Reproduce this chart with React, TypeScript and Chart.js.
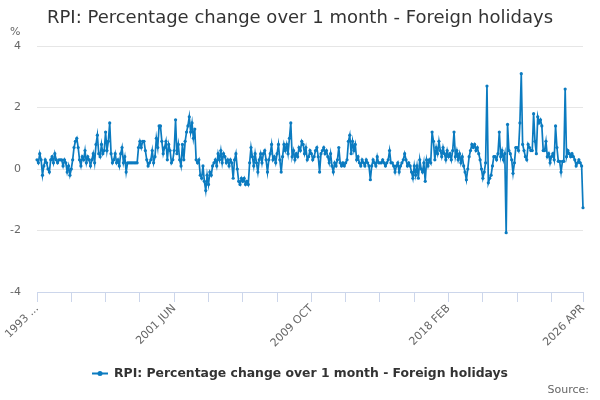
import { useEffect, useRef } from "react"
import { Chart, registerables } from "chart.js"

Chart.register(...registerables)

const chartTitle = "RPI: Percentage change over 1 month - Foreign holidays"
const seriesLabel = "RPI: Percentage change over 1 month - Foreign holidays"
const sourceText = "Source:"
const unitText = "%"

const startYear = 1993
const startMonth = 1 // FEB
const monthNames = ["JAN", "FEB", "MAR", "APR", "MAY", "JUN", "JUL", "AUG", "SEP", "OCT", "NOV", "DEC"]

// monthly % change, 1993 FEB .. 2026 APR
const values: number[] = [
  0.3, 0.2, 0.5, 0.3, -0.2, 0.1, 0.3, 0.2, 0.0, -0.1, 0.3, 0.4, 0.2, 0.5, 0.3, 0.2, 0.3, 0.3, 0.3, 0.1, 0.3, 0.2, -0.1, 0.1, -0.2,
  0.0, 0.3, 0.7, 0.9, 1.0, 0.7, 0.3, 0.1, 0.4, 0.3, 0.6, 0.2, 0.4, 0.3, 0.1, 0.3, 0.5, 0.2, 0.8, 1.1, 0.5, 0.4, 0.8, 0.5, 0.6,
  1.2, 0.6, 0.9, 1.5, 0.5, 0.2, 0.3, 0.5, 0.2, 0.3, 0.1, 0.5, 0.7, 0.2, 0.4, -0.1, 0.2, 0.2, 0.2, 0.2, 0.2, 0.2, 0.2, 0.2, 0.7,
  0.9, 0.7, 0.9, 0.9, 0.6, 0.3, 0.1, 0.2, 0.3, 0.6, 0.2, 0.4, 1.0, 0.7, 1.4, 1.4, 0.9, 0.5, 0.7, 0.9, 0.3, 0.8, 0.6, 0.2, 0.3,
  0.6, 1.6, 0.5, 0.8, 0.3, 0.1, 0.8, 0.3, 0.9, 1.2, 1.4, 1.7, 1.2, 1.5, 1.0, 1.3, 0.3, 0.2, 0.3, -0.2, -0.3, 0.1, -0.4, -0.7, -0.2,
  -0.5, -0.1, -0.2, 0.1, 0.2, 0.3, 0.1, 0.5, 0.3, 0.6, 0.2, 0.5, 0.4, 0.2, 0.3, 0.1, 0.3, 0.2, -0.3, 0.3, 0.5, 0.0, -0.4, -0.5, -0.3,
  -0.4, -0.3, -0.5, -0.4, -0.5, 0.2, 0.7, 0.4, 0.1, 0.5, 0.2, -0.1, 0.3, 0.5, 0.2, 0.5, 0.6, 0.3, -0.1, 0.3, 0.5, 0.8, 0.3, 0.4, 0.2,
  0.5, 0.8, 0.3, -0.1, 0.4, 0.8, 0.6, 0.8, 0.5, 1.0, 1.5, 0.4, 0.6, 0.3, 0.5, 0.4, 0.7, 0.6, 0.9, 0.8, 0.5, 0.7, 0.3, 0.4, 0.6,
  0.5, 0.3, 0.4, 0.6, 0.7, 0.4, -0.1, 0.5, 0.6, 0.7, 0.5, 0.6, 0.4, 0.2, 0.5, 0.1, -0.1, 0.2, 0.1, 0.3, 0.7, 0.2, 0.1, 0.2, 0.1,
  0.2, 0.3, 0.9, 1.1, 0.5, 0.9, 0.6, 0.8, 0.3, 0.4, 0.2, 0.1, 0.3, 0.2, 0.1, 0.3, 0.2, 0.1, -0.35, 0.1, 0.3, 0.2, 0.1, 0.4, 0.2,
  0.2, 0.2, 0.3, 0.2, 0.1, 0.2, 0.3, 0.6, 0.2, 0.2, 0.1, -0.1, 0.1, 0.2, -0.1, 0.1, 0.2, 0.3, 0.5, 0.3, 0.1, 0.2, 0.1, -0.1, -0.3,
  0.1, -0.2, 0.1, -0.3, 0.3, 0.0, -0.1, 0.2, -0.4, 0.3, 0.1, 0.3, 0.2, 1.2, 0.9, 0.3, 0.7, 0.5, 0.9, 0.6, 0.4, 0.7, 0.5, 0.3, 0.6,
  0.4, 0.5, 0.3, 0.6, 1.2, 0.4, 0.6, 0.3, 0.5, 0.2, 0.4, 0.1, -0.1, -0.35, 0.0, 0.4, 0.6, 0.8, 0.7, 0.8, 0.6, 0.7, 0.5, 0.3, 0.0,
  -0.3, -0.1, 0.2, 2.7, -0.45, -0.3, -0.2, 0.1, 0.4, 0.4, 0.3, 0.5, 1.2, 0.4, 0.6, 0.3, 0.5, -2.07, 1.45, 0.6, 0.5, 0.3, -0.14, 0.2, 0.7,
  0.7, 0.6, 1.5, 3.1, 0.8, 0.6, 0.4, 0.3, 0.8, 0.7, 0.6, 0.6, 1.8, 0.9, 0.5, 1.7, 1.5, 1.6, 1.4, 0.6, 0.6, 0.9, 0.4, 0.5, 0.2,
  0.4, 0.5, 0.3, 1.4, 0.7, 0.25, 0.25, -0.1, 0.25, 0.25, 2.6, 0.4, 0.6, 0.5, 0.4, 0.5, 0.4, 0.3, 0.1, 0.2, 0.3, 0.2, 0.1, -1.26,
]

const categories = values.map((_, i) => {
  const m = startMonth + i
  return `${startYear + Math.floor(m / 12)} ${monthNames[m % 12]}`
})

const xTickIndex = [0, 100, 200, 300, 398]
const xTickText = ["1993 ...", "2001 JUN", "2009 OCT", "2018 FEB", "2026 APR"]
const yMin = -4
const yMax = 4
const yStep = 2

const FONT = "'DejaVu Sans', sans-serif"
const LINE_COLOR = "#0b7bc0"

const textPlugin = {
  id: "extraTexts",
  afterDraw(chart: Chart) {
    const { ctx, width } = chart
    ctx.save()
    ctx.fillStyle = "#333333"
    ctx.font = `18px ${FONT}`
    ctx.textAlign = "center"
    ctx.textBaseline = "middle"
    ctx.fillText(chartTitle, width / 2, 18)

    ctx.font = `11px ${FONT}`
    ctx.fillStyle = "#666666"
    ctx.textAlign = "left"
    ctx.fillText(unitText, 10, 32)

    // legend
    ctx.font = `bold 12.4px ${FONT}`
    const tw = ctx.measureText(seriesLabel).width
    const total = 16 + 6 + tw
    const x0 = width / 2 - total / 2
    const ly = 373.5
    ctx.strokeStyle = LINE_COLOR
    ctx.lineWidth = 2
    ctx.beginPath()
    ctx.moveTo(x0, ly)
    ctx.lineTo(x0 + 16, ly)
    ctx.stroke()
    ctx.fillStyle = LINE_COLOR
    ctx.beginPath()
    ctx.arc(x0 + 8, ly, 2.5, 0, Math.PI * 2)
    ctx.fill()
    ctx.fillStyle = "#333333"
    ctx.fillText(seriesLabel, x0 + 22, ly)

    ctx.font = `11px ${FONT}`
    ctx.fillStyle = "#666666"
    ctx.textAlign = "right"
    ctx.fillText(sourceText, 589, 390)
    ctx.restore()
  },
}

export default function App() {
  const chartRef = useRef<HTMLCanvasElement>(null)
  const chartInstance = useRef<Chart | null>(null)

  useEffect(() => {
    if (!chartRef.current) return
    if (chartInstance.current) chartInstance.current.destroy()
    const ctx = chartRef.current.getContext("2d")
    if (!ctx) return

    chartInstance.current = new Chart(ctx, {
      type: "line",
      data: {
        labels: categories,
        datasets: [
          {
            label: seriesLabel,
            data: values,
            borderColor: LINE_COLOR,
            backgroundColor: LINE_COLOR,
            borderWidth: 1.7,
            pointRadius: 1.6,
            pointBorderWidth: 0,
            pointBackgroundColor: LINE_COLOR,
            tension: 0,
          },
        ],
      },
      options: {
        responsive: true,
        maintainAspectRatio: false,
        animation: false,
        layout: { padding: { top: 46, left: 0, right: 17, bottom: 40 } },
        plugins: {
          legend: { display: false },
          title: { display: false },
          tooltip: { enabled: false },
        },
        scales: {
          x: {
            type: "category",
            offset: false,
            afterFit: (scale) => {
              scale.height = 68
            },
            border: { color: "#ccd6eb" },
            grid: {
              drawOnChartArea: false,
              drawTicks: true,
              tickLength: 10,
              color: (c) => (c.index % 25 === 0 || c.index === values.length - 1 ? "#ccd6eb" : "rgba(0,0,0,0)"),
            },
            ticks: {
              autoSkip: false,
              minRotation: 45,
              maxRotation: 45,
              padding: 0,
              color: "#666666",
              font: { family: FONT, size: 11 },
              callback: (_v, i) => {
                const k = xTickIndex.indexOf(i)
                return k >= 0 ? xTickText[k] : ""
              },
            },
          },
          y: {
            min: yMin,
            max: yMax,
            afterFit: (scale) => {
              scale.width = 37
            },
            border: { display: false },
            grid: { color: "#e6e6e6", drawTicks: false },
            ticks: {
              stepSize: yStep,
              padding: 16,
              color: "#666666",
              font: { family: FONT, size: 11 },
            },
          },
        },
      },
      plugins: [textPlugin],
    })

    return () => {
      if (chartInstance.current) {
        chartInstance.current.destroy()
        chartInstance.current = null
      }
    }
  }, [])

  return (
    <div style={{ position: "fixed", left: 0, top: 0, width: 600, height: 400, background: "#ffffff" }}>
      <canvas ref={chartRef} />
    </div>
  )
}
